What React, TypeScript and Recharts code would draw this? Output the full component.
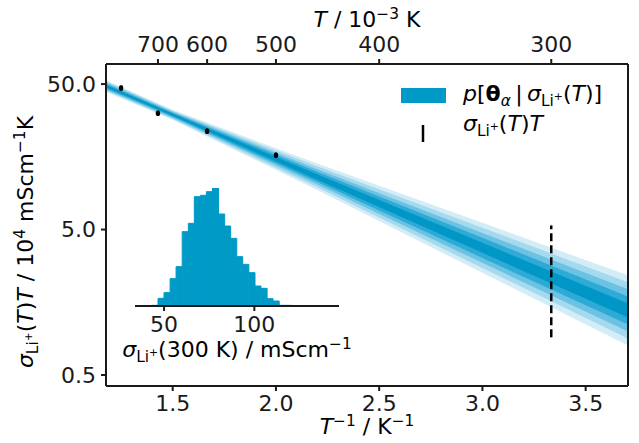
import React from "react";
import { ComposedChart, Area, Scatter, ErrorBar, XAxis, YAxis, BarChart, Bar } from "recharts";

// posterior band, sampled at a few inverse temperatures (1000/T), five nested quantile ranges
const bandInvT = [1.177, 1.5, 2.2, 3.0, 3.705];
const band1Hi = [53.2, 33.3, 14.2, 5.56, 2.42];
const band1Lo = [44.1, 28.4, 9.35, 2.52, 0.798];
const band2Hi = [52.2, 32.8, 13.6, 5.14, 2.17];
const band2Lo = [44.9, 28.8, 9.75, 2.72, 0.891];
const band3Hi = [51.3, 32.3, 13.0, 4.74, 1.94];
const band3Lo = [45.7, 29.3, 10.2, 2.95, 0.995];
const band4Hi = [50.2, 31.8, 12.5, 4.39, 1.73];
const band4Lo = [46.7, 29.8, 10.6, 3.19, 1.11];
const band5Hi = [49.3, 31.3, 12.0, 4.05, 1.55];
const band5Lo = [47.5, 30.3, 11.0, 3.46, 1.24];

// measured sigma*T values
const measuredT = [800, 700, 600, 500];
const measuredSigmaT = [46.9, 31.5, 23.7, 16.2];
const measuredErr = [1.9, 1.3, 1.0, 0.7];

// predicted range at 300 K
const predictedT = [300];
const predictedMid = [3.12];
const predictedErr = [2.21];

const topTicksT = [700, 600, 500, 400, 300];
const bottomTicks = [1.5, 2.0, 2.5, 3.0, 3.5];
const leftTicks = [0.5, 5, 50];

// inset histogram of sigma(300 K)
const histCenters = [44.9, 48.3, 51.6, 55.0, 58.3, 61.7, 65.1, 68.4, 71.8, 75.1, 78.5, 81.9,
  85.2, 88.6, 91.9, 95.3, 98.7, 102.0, 105.4, 108.7, 112.1, 115.5, 118.8, 122.2];
const histCounts = [2, 23, 40, 82, 118, 223, 248, 328, 332, 343, 354, 276,
  240, 203, 148, 125, 100, 60, 53, 22, 15, 2, 2, 1];
const histTicks = [50, 100];

const BLUE = "#009ac7";
const bandColors = ["#d3edf7", "#a4d9ee", "#6bc2e2", "#2eaad6", "#0097c6"];
const INK = "#1a1a1a";
const FONT = "DejaVu Sans";
const FS = 22;
const X_DOMAIN = [1.177, 3.705];

const bandsHi = [band1Hi, band2Hi, band3Hi, band4Hi, band5Hi];
const bandsLo = [band1Lo, band2Lo, band3Lo, band4Lo, band5Lo];

const bandData = bandInvT.map((x, i) => {
  const row: any = { x };
  bandsHi.forEach((hi, k) => {
    row["b" + k] = [bandsLo[k][i], hi[i]];
  });
  return row;
});

const measuredData = measuredT.map((t, i) => ({ x: 1000 / t, y: measuredSigmaT[i], err: measuredErr[i] }));
const predictedData = predictedT.map((t, i) => ({ x: 1000 / t, y: predictedMid[i], err: predictedErr[i] }));
const histData = histCenters.map((c, i) => ({ c, n: histCounts[i] }));

const tickStyle = { fontFamily: FONT, fontSize: FS, fill: INK };
const lineStyle = { stroke: INK, strokeWidth: 2 };

const Sub = ({ children }: { children: React.ReactNode }) => (
  <span style={{ fontSize: "0.7em", position: "relative", top: "0.3em" }}>{children}</span>
);
const Sup = ({ children }: { children: React.ReactNode }) => (
  <span style={{ fontSize: "0.7em", position: "relative", top: "-0.5em" }}>{children}</span>
);
const SigmaLi = () => (
  <>
    <i>σ</i>
    <Sub>
      Li<Sup>+</Sup>
    </Sub>
  </>
);

const labelBase: React.CSSProperties = {
  position: "absolute",
  fontFamily: FONT,
  fontSize: FS,
  lineHeight: FS + "px",
  color: "#000",
  whiteSpace: "nowrap",
};

export default function App() {
  return (
    <div style={{ position: "absolute", left: 0, top: 0, width: 639, height: 443, background: "#fff" }}>
      <ComposedChart
        width={639}
        height={443}
        data={bandData}
        margin={{ top: 0, right: 0, bottom: 0, left: 0 }}
      >
        <XAxis
          dataKey="x"
          type="number"
          domain={X_DOMAIN}
          allowDataOverflow
          ticks={bottomTicks}
          interval={0}
          tickFormatter={(v: number) => v.toFixed(1)}
          height={57}
          tick={tickStyle}
          tickSize={5}
          tickMargin={4}
          axisLine={lineStyle}
          tickLine={lineStyle}
        />
        <XAxis
          xAxisId="top"
          dataKey="x"
          orientation="top"
          type="number"
          domain={X_DOMAIN}
          allowDataOverflow
          ticks={topTicksT.map((t) => 1000 / t)}
          interval={0}
          tickFormatter={(v: number) => String(Math.round(1000 / v))}
          height={64}
          tick={tickStyle}
          tickSize={5}
          tickMargin={7}
          axisLine={lineStyle}
          tickLine={lineStyle}
        />
        <YAxis
          dataKey="y"
          type="number"
          scale="log"
          domain={[0.42, 68.7]}
          allowDataOverflow
          ticks={leftTicks}
          interval={0}
          tickFormatter={(v: number) => v.toFixed(1)}
          width={106}
          tick={tickStyle}
          tickSize={5}
          tickMargin={5}
          axisLine={lineStyle}
          tickLine={lineStyle}
        />
        <YAxis
          yAxisId="right"
          orientation="right"
          type="number"
          domain={[0, 1]}
          allowDataOverflow
          width={11}
          tick={false}
          tickLine={false}
          axisLine={lineStyle}
        />
        {bandColors.map((col, k) => (
          <Area
            key={k}
            type="linear"
            dataKey={"b" + k}
            stroke="none"
            fill={col}
            fillOpacity={1}
            isAnimationActive={false}
            dot={false}
            activeDot={false}
          />
        ))}
        <Scatter
          data={measuredData}
          isAnimationActive={false}
          shape={(p: any) => <ellipse cx={p.cx} cy={p.cy} rx={2.2} ry={2.8} fill="#000" />}
        >
          <ErrorBar dataKey="err" direction="y" width={0} stroke="#000" strokeWidth={2.5} isAnimationActive={false} />
        </Scatter>
        {/* 300 K prediction range, plotted against the temperature axis */}
        <Scatter xAxisId="top" data={predictedData} isAnimationActive={false} shape={() => <g />}>
          <ErrorBar
            dataKey="err"
            direction="y"
            width={0}
            stroke="#000"
            strokeWidth={2.5}
            strokeDasharray="8 4"
            isAnimationActive={false}
          />
        </Scatter>
      </ComposedChart>

      {/* inset histogram */}
      <div style={{ position: "absolute", left: 135, top: 188 }}>
        <BarChart
          width={204}
          height={152}
          data={histData}
          barCategoryGap={0}
          margin={{ top: 0, right: 0, bottom: 0, left: 0 }}
        >
          <XAxis
            dataKey="c"
            type="number"
            domain={[33.9, 146.9]}
            allowDataOverflow
            ticks={histTicks}
            interval={0}
            height={34}
            tick={tickStyle}
            tickSize={5}
            tickMargin={5}
            axisLine={lineStyle}
            tickLine={lineStyle}
          />
          <YAxis hide domain={[0, 354]} />
          <Bar dataKey="n" fill={BLUE} stroke={BLUE} strokeWidth={1} isAnimationActive={false} />
        </BarChart>
      </div>

      {/* axis labels */}
      <div style={{ ...labelBase, left: 367, top: 9, transform: "translateX(-50%)" }}>
        <i>T</i> / 10<Sup>−3</Sup> K
      </div>
      <div style={{ ...labelBase, left: 367, top: 416, transform: "translateX(-50%)" }}>
        <i>T</i>
        <Sup>−1</Sup> / K<Sup>−1</Sup>
      </div>
      <div
        style={{
          ...labelBase,
          left: 28,
          top: 242,
          transform: "translate(-50%, -50%) rotate(-90deg)",
        }}
      >
        <SigmaLi />(<i>T</i>)<i>T</i> / 10<Sup>4</Sup> mScm<Sup>−1</Sup>K
      </div>
      <div style={{ ...labelBase, left: 237, top: 339, transform: "translateX(-50%)" }}>
        <SigmaLi />(300 K) / mScm<Sup>−1</Sup>
      </div>

      {/* legend */}
      <div style={{ position: "absolute", left: 401, top: 88, width: 45, height: 15, background: BLUE }} />
      <div style={{ ...labelBase, left: 463, top: 83 }}>
        <i>p</i>[<b>θ</b>
        <Sub>
          <i>α</i>
        </Sub>
        {"\u2009|\u2009"}
        <SigmaLi />(<i>T</i>)]
      </div>
      <svg style={{ position: "absolute", left: 418, top: 122 }} width={10} height={22}>
        <line x1={5} y1={3} x2={5} y2={20} stroke="#000" strokeWidth={2.5} />
      </svg>
      <div style={{ ...labelBase, left: 463, top: 113 }}>
        <SigmaLi />(<i>T</i>)<i>T</i>
      </div>
    </div>
  );
}
